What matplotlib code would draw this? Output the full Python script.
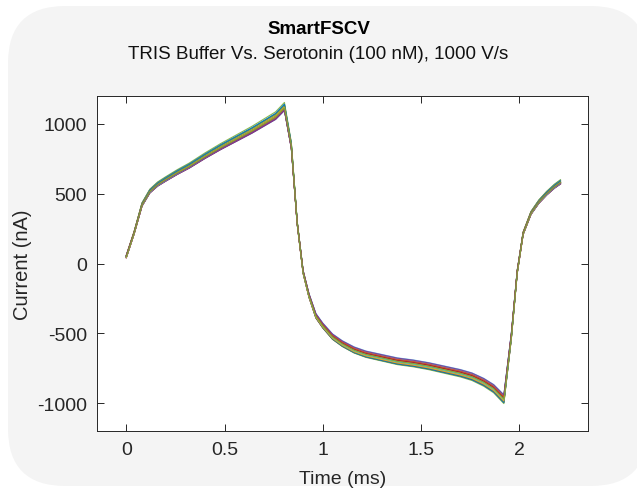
import matplotlib
matplotlib.use("Agg")
import matplotlib.pyplot as plt
from matplotlib.patches import FancyBboxPatch
import numpy as np

plt.rcParams['axes.unicode_minus'] = False

# mean voltammogram (time in ms, current in nA)
t_ms = [0.0, 0.04, 0.08, 0.12, 0.16, 0.20, 0.26, 0.32, 0.40, 0.48, 0.56, 0.64,
        0.70, 0.76, 0.805, 0.84, 0.87, 0.90, 0.93, 0.965, 1.00, 1.05, 1.10,
        1.16, 1.22, 1.30, 1.38, 1.46, 1.54, 1.62, 1.70, 1.76, 1.82, 1.87,
        1.922, 1.96, 1.99, 2.02, 2.06, 2.10, 2.14, 2.18, 2.21]
current_nA = [50, 220, 420, 515, 565, 600, 650, 695, 765, 830, 890, 950,
              1000, 1050, 1115, 840, 290, -60, -230, -375, -445, -525, -575,
              -620, -650, -675, -700, -715, -735, -760, -785, -810, -850, -895,
              -970, -520, -60, 215, 360, 440, 500, 550, 580]

# scan-to-scan spread (gain, offset in nA), estimated from the bundle width
scan_gain = [1.00, 0.985, 1.02, 0.99, 1.01, 0.98, 1.015, 1.00, 0.99, 1.01,
             0.995, 1.035, 0.98, 1.005, 1.02, 0.99, 1.01, 0.985, 1.015, 1.00,
             0.995, 1.025, 0.99, 1.01, 0.98, 1.0]
scan_offset = [0, 6, -5, 9, -8, 3, -10, 5, -3, 8, -6, 0, 10, -9, 4,
               -4, 7, -2, 2, -7, 3, -3, 6, -6, 8, -1]

matlab_colors = ['#0072BD', '#D95319', '#EDB120', '#7E2F8E', '#77AC30',
                 '#4DBEEE', '#A2142F']

fig = plt.figure(figsize=(6.37, 4.89), dpi=100, facecolor='white')

# rounded grey panel behind everything
bg = FancyBboxPatch((8 / 637, 2 / 489), 640 / 637, 480 / 489,
                    boxstyle="round,pad=0,rounding_size=0.09",
                    transform=fig.transFigure, facecolor='#f4f4f4',
                    edgecolor='none', zorder=-10, mutation_aspect=637 / 489)
fig.patches.append(bg)

ax = fig.add_axes([0.152, 0.1166, 0.771, 0.685])
ax.set_facecolor('white')

base = np.array(current_nA)
for i in range(len(scan_gain)):
    ax.plot(t_ms, base * scan_gain[i] + scan_offset[i],
            color=matlab_colors[i % 7], lw=0.8, alpha=0.85)

ax.set_xlim(-0.15, 2.35)
ax.set_ylim(-1200, 1200)
ax.set_xticks([0, 0.5, 1, 1.5, 2])
ax.set_xticklabels(['0', '0.5', '1', '1.5', '2'])
ax.set_yticks([-1000, -500, 0, 500, 1000])

fnt = 'Liberation Sans'
for s in ax.spines.values():
    s.set_color('#262626')
    s.set_linewidth(0.7)
ax.tick_params(direction='in', length=5, width=0.7, color='#262626',
               top=True, right=True, labelsize=14, labelcolor='#262626', pad=7)
for lab in ax.get_xticklabels() + ax.get_yticklabels():
    lab.set_family(fnt)

ax.set_xlabel('Time (ms)', fontsize=14, family=fnt, color='#262626', labelpad=9)
ax.set_ylabel('Current (nA)', fontsize=14.5, family=fnt, color='#262626', labelpad=4)

fig.text(0.5, 0.939, 'SmartFSCV', ha='center', va='center', fontsize=13.5,
         weight='bold', family=fnt, color='black')
fig.text(0.5, 0.888, 'TRIS Buffer Vs. Serotonin (100 nM), 1000 V/s',
         ha='center', va='center', fontsize=13.5, family=fnt, color='#111111')

fig.savefig('out.png', dpi=100, facecolor='white')
